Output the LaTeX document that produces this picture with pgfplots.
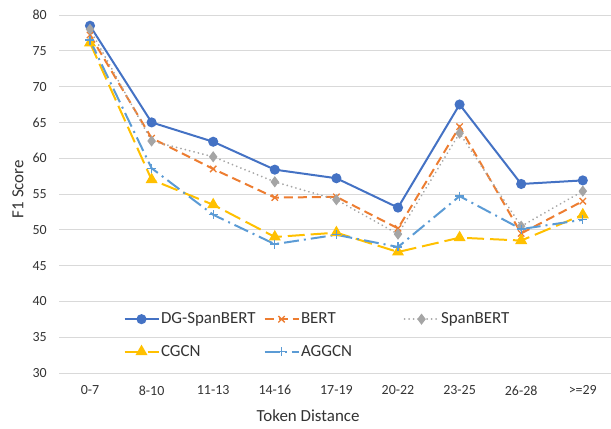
\documentclass[border=0pt]{standalone}
\usepackage{fontspec}
\setmainfont{Carlito}
\usepackage{pgfplots}
\pgfplotsset{compat=1.18}
\definecolor{cblue}{HTML}{4472C4}
\definecolor{corange}{HTML}{ED7D31}
\definecolor{cgray}{HTML}{A5A5A5}
\definecolor{cgold}{HTML}{FFC000}
\definecolor{clblue}{HTML}{5B9BD5}
\definecolor{gridgray}{HTML}{D9D9D9}
\begin{document}
\begin{tikzpicture}
\begin{axis}[
  at={(0,0)}, anchor=south west,
  scale only axis, width=554.4bp, height=358bp,
  xmin=-0.5, xmax=8.5, ymin=30, ymax=80,
  ytick={30,35,...,80},
  xtick={0,...,8},
  xticklabels={0-7,8-10,11-13,14-16,17-19,20-22,23-25,26-28,>=29},
  axis line style={draw=none},
  major tick length=0pt,
  ymajorgrids,
  grid style={draw=gridgray, line width=1bp},
  /pgf/number format/assume math mode=true,
  tick label style={font=\fontsize{14}{16}\selectfont, text=black!80},
  xticklabel style={yshift=-9bp},
  yticklabel style={xshift=-9bp},
  label style={font=\fontsize{17}{20}\selectfont, text=black!80},
  xlabel={Token Distance},
  ylabel={F1 Score},
  xlabel style={at={(axis description cs:0.449,-0.12)}, anchor=center},
  ylabel style={at={(axis description cs:-0.0743,0.514)}, anchor=center},
  legend columns=3,
  legend style={draw=none, fill=none, inner sep=0pt, outer sep=0pt,
    font=\fontsize{17}{20}\selectfont, text=black!80,
    nodes={inner xsep=1.5bp, inner ysep=1bp},
    cells={anchor=west}, row sep=18bp, column sep=0pt,
    at={(axis description cs:0.116,0.105)}, anchor=west},
  legend image code/.code={\draw[mark repeat=2,mark phase=2] plot coordinates {(0bp,0bp)(17bp,0bp)(34bp,0bp)};},
  every axis plot/.append style={line width=2bp},
]
\addplot[cblue, solid, mark=*, mark size=4bp, mark options={solid, fill=cblue}] coordinates {
(0,78.5)(1,65.0)(2,62.3)(3,58.4)(4,57.2)(5,53.1)(6,67.5)(7,56.4)(8,56.9)};
\addlegendentry{\makebox[101bp][l]{DG-SpanBERT}}
\addplot[corange, dash pattern=on 9bp off 5bp, mark=x, mark size=4.5bp, mark options={solid, line width=1.3bp}] coordinates {
(0,77.2)(1,62.8)(2,58.5)(3,54.5)(4,54.6)(5,50.2)(6,64.4)(7,49.5)(8,54.0)};
\addlegendentry{\makebox[101bp][l]{BERT}}
\addplot[cgray, line cap=round, dash pattern=on 0.01bp off 4.5bp, mark=diamond*, mark size=4bp, mark options={solid, fill=cgray}] coordinates {
(0,78.0)(1,62.4)(2,60.2)(3,56.7)(4,54.2)(5,49.4)(6,63.5)(7,50.5)(8,55.4)};
\addlegendentry{\makebox[101bp][l]{SpanBERT}}
\addplot[cgold, dash pattern=on 17bp off 6bp, mark=triangle*, mark size=5bp, mark options={solid, fill=cgold}] coordinates {
(0,76.1)(1,57.0)(2,53.5)(3,49.0)(4,49.6)(5,46.9)(6,48.9)(7,48.5)(8,52.1)};
\addlegendentry{\makebox[101bp][l]{CGCN}}
\addplot[clblue, dash pattern=on 15bp off 5bp on 2bp off 5bp, mark=+, mark size=4.5bp, mark options={solid, line width=1.3bp}] coordinates {
(0,76.5)(1,58.6)(2,52.1)(3,48.0)(4,49.3)(5,47.6)(6,54.7)(7,50.1)(8,51.4)};
\addlegendentry{\makebox[101bp][l]{AGGCN}}
\end{axis}
\pgfresetboundingbox
\useasboundingbox (-59.2bp,-56bp) rectangle (551.8bp,373bp);
\end{tikzpicture}
\end{document}
